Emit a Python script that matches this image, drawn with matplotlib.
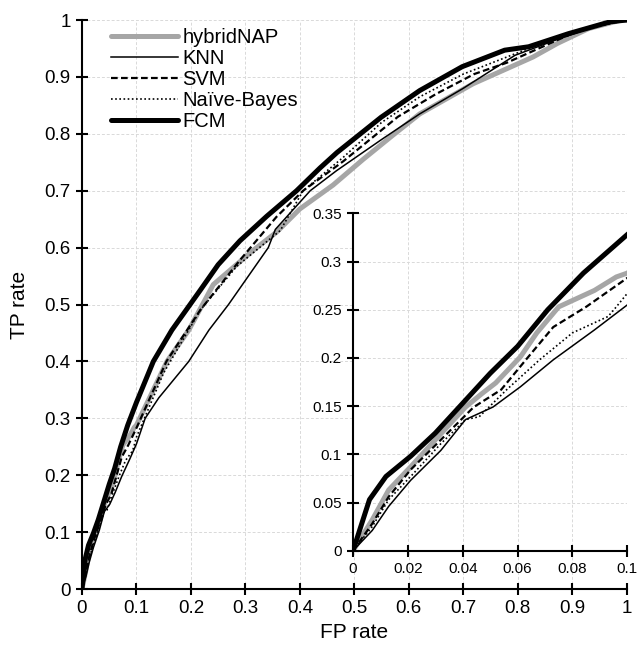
import matplotlib
matplotlib.use("Agg")
import matplotlib.pyplot as plt

plt.rcParams['font.family'] = ['Liberation Sans', 'DejaVu Sans']

# ROC curves (FP rate, TP rate)
fcm_x = [0, 0.006, 0.012, 0.021, 0.030, 0.040, 0.050, 0.060, 0.071, 0.084, 0.100,
         0.131, 0.165, 0.217, 0.25, 0.29, 0.339, 0.394, 0.437, 0.468, 0.549, 0.62,
         0.698, 0.776, 0.82, 0.893, 0.97, 1.0]
fcm_y = [0, 0.053, 0.077, 0.098, 0.122, 0.153, 0.184, 0.212, 0.250, 0.288, 0.328,
         0.40, 0.455, 0.525, 0.57, 0.612, 0.655, 0.70, 0.74, 0.767, 0.829, 0.876,
         0.918, 0.947, 0.953, 0.976, 0.997, 1.0]

hyb_x = [0, 0.007, 0.013, 0.021, 0.030, 0.041, 0.047, 0.052, 0.061, 0.067, 0.075,
         0.088, 0.096, 0.100, 0.156, 0.196, 0.241, 0.314, 0.357, 0.40, 0.461, 0.516,
         0.57, 0.62, 0.718, 0.828, 0.873, 0.93, 0.99, 1.0]
hyb_y = [0, 0.032, 0.063, 0.087, 0.115, 0.149, 0.163, 0.174, 0.201, 0.226, 0.253,
         0.270, 0.284, 0.288, 0.40, 0.455, 0.535, 0.595, 0.627, 0.668, 0.71, 0.755,
         0.797, 0.835, 0.888, 0.935, 0.959, 0.985, 1.0, 1.0]

svm_x = [0, 0.007, 0.013, 0.021, 0.032, 0.044, 0.054, 0.063, 0.073, 0.085, 0.100,
         0.155, 0.217, 0.29, 0.357, 0.406, 0.48, 0.58, 0.65, 0.72, 0.78, 0.85,
         0.92, 1.0]
svm_y = [0, 0.028, 0.056, 0.084, 0.115, 0.149, 0.167, 0.198, 0.232, 0.253, 0.283,
         0.40, 0.49, 0.578, 0.654, 0.70, 0.752, 0.83, 0.87, 0.905, 0.925, 0.955,
         0.985, 1.0]

nb_x = [0, 0.007, 0.013, 0.022, 0.032, 0.041, 0.046, 0.056, 0.068, 0.080, 0.093,
        0.096, 0.100, 0.15, 0.217, 0.284, 0.364, 0.406, 0.48, 0.55, 0.62, 0.70,
        0.78, 0.86, 0.93, 1.0]
nb_y = [0, 0.025, 0.053, 0.080, 0.111, 0.136, 0.139, 0.167, 0.198, 0.226, 0.243,
        0.253, 0.267, 0.38, 0.49, 0.567, 0.63, 0.70, 0.759, 0.82, 0.865, 0.905,
        0.935, 0.965, 0.985, 1.0]

knn_x = [0, 0.007, 0.013, 0.021, 0.032, 0.041, 0.051, 0.061, 0.073, 0.088, 0.100,
         0.116, 0.141, 0.196, 0.233, 0.269, 0.342, 0.355, 0.419, 0.467, 0.55, 0.62,
         0.70, 0.795, 0.87, 0.94, 1.0]
knn_y = [0, 0.021, 0.046, 0.073, 0.104, 0.136, 0.149, 0.170, 0.198, 0.229, 0.255,
         0.30, 0.336, 0.40, 0.455, 0.50, 0.60, 0.632, 0.70, 0.735, 0.79, 0.835,
         0.88, 0.938, 0.965, 0.988, 1.0]

main_ticks = [0, 0.1, 0.2, 0.3, 0.4, 0.5, 0.6, 0.7, 0.8, 0.9, 1]
main_labels = ['0', '0.1', '0.2', '0.3', '0.4', '0.5', '0.6', '0.7', '0.8', '0.9', '1']
inset_xticks = [0, 0.02, 0.04, 0.06, 0.08, 0.1]
inset_xlabels = ['0', '0.02', '0.04', '0.06', '0.08', '0.1']
inset_yticks = [0, 0.05, 0.1, 0.15, 0.2, 0.25, 0.3, 0.35]
inset_ylabels = ['0', '0.05', '0.1', '0.15', '0.2', '0.25', '0.3', '0.35']

GRAY = '#a6a6a6'


def draw_curves(ax):
    ax.plot(hyb_x, hyb_y, color=GRAY, lw=3.6, label='hybridNAP', solid_capstyle='round')
    ax.plot(knn_x, knn_y, color='black', lw=1.1, label='KNN')
    ax.plot(svm_x, svm_y, color='black', lw=1.6, ls=(0, (3, 1.5)), label='SVM')
    ax.plot(nb_x, nb_y, color='black', lw=1.2, ls=(0, (1, 1.5)), label='Naïve-Bayes')
    ax.plot(fcm_x, fcm_y, color='black', lw=3.6, label='FCM', solid_capstyle='round')


def style_axes(ax, lw, ticklen):
    for s in ['top', 'right']:
        ax.spines[s].set_visible(False)
    for s in ['left', 'bottom']:
        ax.spines[s].set_linewidth(lw)
    ax.tick_params(direction='inout', length=ticklen, width=lw)
    ax.grid(True, color='#d9d9d9', ls=(0, (3, 2)), lw=0.7)
    ax.set_axisbelow(True)


fig = plt.figure(figsize=(6.37, 6.46), dpi=100)

ax = fig.add_axes([0.1287, 0.0882, 0.8551, 0.8808])
draw_curves(ax)
style_axes(ax, 1.5, 8)
ax.set_xlim(0, 1)
ax.set_ylim(0, 1)
ax.set_xticks(main_ticks)
ax.set_xticklabels(main_labels)
ax.set_yticks(main_ticks)
ax.set_yticklabels(main_labels)
ax.tick_params(labelsize=13.5, pad=4)
ax.set_xlabel('FP rate', fontsize=15, labelpad=4)
ax.set_ylabel('TP rate', fontsize=15, labelpad=11)

leg = ax.legend(loc='upper left', bbox_to_anchor=(0.035, 1.004), frameon=False,
                fontsize=14.5, handlelength=3.3, handletextpad=0.25,
                labelspacing=0.1, borderpad=0.0)

axin = fig.add_axes([0.5542, 0.1475, 0.4306, 0.5223])
axin.set_facecolor('white')
draw_curves(axin)
style_axes(axin, 1.5, 8)
axin.set_xlim(0, 0.1)
axin.set_ylim(0, 0.35)
axin.set_xticks(inset_xticks)
axin.set_xticklabels(inset_xlabels)
axin.set_yticks(inset_yticks)
axin.set_yticklabels(inset_ylabels)
axin.tick_params(labelsize=11, pad=4)

fig.savefig('out.png', dpi=100)
